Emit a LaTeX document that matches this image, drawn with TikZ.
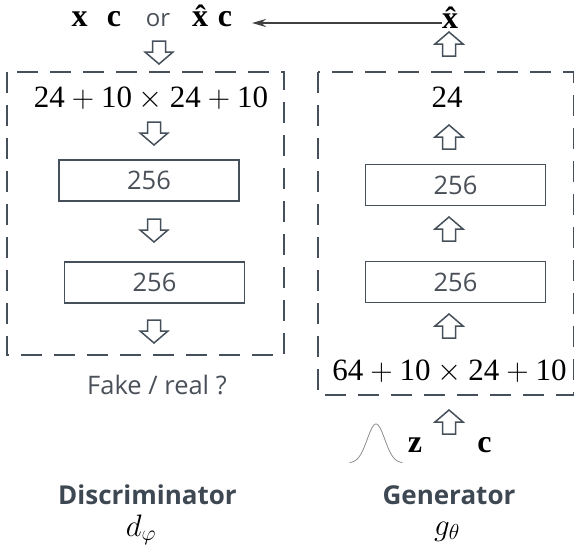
\RequirePackage{fix-cm}
\documentclass[tikz,border=0pt]{standalone}
\usepackage{fontspec}
\setmainfont{Liberation Serif}
\newfontfamily\osans{Open Sans}
\usetikzlibrary{arrows.meta}
\definecolor{slate}{HTML}{46505A}
\definecolor{txtgray}{HTML}{4A5058}
\definecolor{titlegray}{HTML}{3E4853}
\newcommand\harrdown[2]{\draw[harr] (#1-6.5,#2) -- (#1+6.5,#2) -- (#1+6.5,#2+11) -- (#1+14,#2+11) -- (#1,#2+23) -- (#1-14,#2+11) -- (#1-6.5,#2+11) -- cycle;}
\newcommand\harrup[2]{\draw[harr] (#1,#2) -- (#1+14,#2+12) -- (#1+6.5,#2+12) -- (#1+6.5,#2+24) -- (#1-6.5,#2+24) -- (#1-6.5,#2+12) -- (#1-14,#2+12) -- cycle;}
\begin{document}
\begin{tikzpicture}[x=1pt,y=-1pt,
  dbox/.style={draw=slate, line width=1.8pt, dash pattern=on 21pt off 12pt},
  layer/.style={draw=slate, line width=1.6pt, minimum width=180pt, minimum height=41pt, inner sep=0pt,
    font=\osans\fontsize{25.5}{25.5}\selectfont, text=txtgray},
  harr/.style={draw=slate, line width=1.5pt, fill=white, line join=miter},
  bigmath/.style={anchor=base, inner sep=0pt, font=\fontsize{31}{31}\selectfont},
  bsym/.style={anchor=base, inner sep=0pt, font=\fontsize{32}{32}\selectfont\bfseries},
  sanslbl/.style={anchor=base, inner sep=0pt, font=\osans\fontsize{25.5}{25.5}\selectfont, text=txtgray},
  title/.style={anchor=base, inner sep=0pt, text depth=0pt, font=\osans\bfseries\fontsize{26}{26}\selectfont, text=titlegray},
  sub/.style={anchor=base, inner sep=0pt, font=\fontsize{31}{31}\selectfont},
  conn/.style={draw=black!75, line width=2pt, -{Stealth[length=14pt,width=8pt]}}
]
\useasboundingbox (0,0) rectangle (575,549);

% dashed boxes
\draw[dbox] (7,72) rectangle (284,355);
\draw[dbox] (318,72) rectangle (573.5,395);

% top row
\node[bsym] (xin) at (79.5,26) {x};
\node[bsym] (cin) at (114,26) {c};
\node[anchor=base, inner sep=0pt, font=\osans\fontsize{24}{24}\selectfont, text=txtgray] (or) at (158,26) {or};
\node[bsym] (xhatL) at (200,26) {\^{x}};
\node[bsym] (cin2) at (225,26) {c};
\node[bsym] (xhatR) at (450,28) {\^{x}};
\coordinate (tipend) at (252,23);
\draw[conn] (xhatR.west |- tipend) -- (tipend);

% discriminator
\harrdown{159}{41}
\node[bigmath] (din) at (151,107) {$\mbox{24}+\mbox{10}\times\mbox{24}+\mbox{10}$};
\harrdown{154}{122}
\node[layer] (d1) at (149,180.5) {256};
\harrdown{154}{219}
\node[layer] (d2) at (154.5,282.5) {256};
\harrdown{154}{320}
\node[sanslbl] (fr) at (157,394) {Fake / real ?};
\node[title] (dt) at (147.5,504) {Discriminator};
\node[sub] (dsym) at (141,536) {$d_\varphi$};

% generator
\harrup{449}{32}
\node[bigmath] (gout) at (447,107) {\mbox{24}};
\harrup{449}{125}
\node[layer] (g2) at (455.5,185) {256};
\harrup{449}{217}
\node[layer] (g1) at (455.5,282) {256};
\harrup{449}{314}
\node[bigmath] (gin) at (449.5,380) {$\mbox{64}+\mbox{10}\times\mbox{24}+\mbox{10}$};
\harrup{449}{410}
\draw[black!45, line width=0.8pt, domain=-3:3, samples=60, smooth] plot ({376+8.8*\x},{463-39*exp(-\x*\x/2)});
\node[bsym] (z) at (415,452) {z};
\node[bsym] (cg) at (484.5,452) {c};
\node[title] (gt) at (449,504) {Generator};
\node[sub] (gsym) at (447,535) {$g_\theta$};
\end{tikzpicture}
\end{document}
